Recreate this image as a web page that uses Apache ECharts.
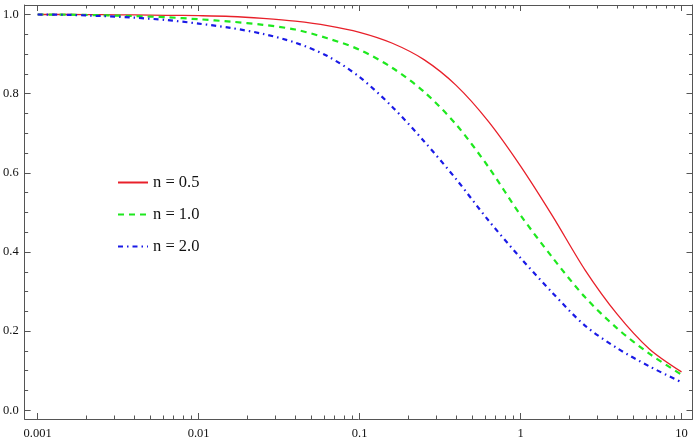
<!DOCTYPE html>
<html>
<head>
<meta charset="utf-8">
<script src="https://cdn.jsdelivr.net/npm/echarts@6/dist/echarts.min.js"></script>
<style>html,body{margin:0;padding:0;background:#fff;}#c{width:697px;height:440px;}</style>
</head>
<body>
<div id="c"></div>
<script>
const xValues = [0.001,0.001585,0.002512,0.003981,0.00631,0.01,0.01585,0.02512,0.03981,0.0631,0.1,0.1585,0.2512,0.3981,0.631,1,1.585,2.512,3.981,6.31,10];
const redN05   = [1.000,1.000,0.9995,0.999,0.998,0.997,0.995,0.990,0.983,0.972,0.955,0.928,0.886,0.821,0.730,0.617,0.490,0.355,0.243,0.155,0.097];
const greenN10 = [1.000,0.9995,0.998,0.996,0.993,0.988,0.982,0.974,0.962,0.940,0.911,0.866,0.805,0.722,0.615,0.493,0.385,0.286,0.207,0.143,0.090];
const blueN20  = [1.000,0.999,0.996,0.992,0.986,0.977,0.966,0.951,0.929,0.895,0.842,0.768,0.680,0.584,0.480,0.385,0.296,0.214,0.157,0.111,0.071];
const seriesNames = ['n = 0.5','n = 1.0','n = 2.0'];
const xTickLabels = [0.001,0.01,0.1,1,10];
const xTickTexts = ['0.001','0.01','0.1','1','10'];
const yTickLabels = [0,0.2,0.4,0.6,0.8,1.0];

const xMinor = [];
xTickLabels.forEach(d => { for (let k = 2; k <= 9; k++) { const v = +(d*k).toPrecision(3); if (v < 11.7) xMinor.push(v); } });
const yMinor = [];
for (let i = 0; i <= 20; i++) yMinor.push(+(i*0.05).toFixed(2));

const XMIN = 0.00083, XMAX = 11.7, YMIN = -0.022, YMAX = 1.024;
const axisColor = '#555';
const font = "'Liberation Serif', 'DejaVu Serif', serif";

function xAx(pos, major, show) {
  return {
    type: 'log', logBase: 10, min: XMIN, max: XMAX, position: pos,
    axisLine: { show: show, onZero: false, lineStyle: { color: axisColor, width: 1 } },
    axisTick: { show: true, inside: true, length: major ? 6 : 3.5, customValues: major ? xTickLabels : xMinor, lineStyle: { color: axisColor } },
    axisLabel: { show: pos === 'bottom' && major, customValues: xTickLabels, color: '#111', fontFamily: font, fontSize: 12.5, margin: 8,
      formatter: v => { for (let i = 0; i < xTickLabels.length; i++) if (Math.abs(Math.log10(v) - Math.log10(xTickLabels[i])) < 1e-6) return xTickTexts[i]; return ''; } },
    splitLine: { show: false }
  };
}
function yAx(pos, major, show) {
  return {
    type: 'value', min: YMIN, max: YMAX, position: pos,
    axisLine: { show: show, onZero: false, lineStyle: { color: axisColor, width: 1 } },
    axisTick: { show: true, inside: true, length: major ? 6 : 3.5, customValues: major ? yTickLabels : yMinor, lineStyle: { color: axisColor } },
    axisLabel: { show: pos === 'left' && major, customValues: yTickLabels, color: '#111', fontFamily: font, fontSize: 12.5, margin: 6,
      formatter: v => v.toFixed(1) },
    splitLine: { show: false }
  };
}

const chart = echarts.init(document.getElementById('c'), null, { renderer: 'canvas' });
const colors = ['#e8202a', '#1ee81e', '#1a1ae6'];
const lineTypes = ['solid', [6, 5], [5, 4, 1.5, 4]];
const widths = [1.3, 2.2, 2.2];
const datas = [redN05, greenN10, blueN20];
chart.setOption({
  animation: false,
  backgroundColor: '#fff',
  grid: { left: 23.5, right: 4.5, top: 5, bottom: 18, containLabel: false },
  xAxis: [xAx('bottom', true, true), xAx('bottom', false, false), xAx('top', true, true), xAx('top', false, false)],
  yAxis: [yAx('left', true, true), yAx('left', false, false), yAx('right', true, true), yAx('right', false, false)],
  legend: {
    show: true, orient: 'vertical', left: 112, top: 169, itemWidth: 30, itemHeight: 14, itemGap: 15,
    textStyle: { fontFamily: font, fontSize: 16.5, color: '#111' },
    itemStyle: { opacity: 0, color: 'rgba(0,0,0,0)', borderWidth: 0 },
    data: seriesNames
  },
  series: datas.map((d, i) => ({
    name: seriesNames[i], type: 'line', xAxisIndex: 0, yAxisIndex: 0,
    data: xValues.map((x, j) => [x, d[j]]),
    smooth: 0.3, symbol: 'none', showSymbol: false,
    lineStyle: { color: colors[i], width: widths[i], type: lineTypes[i] },
    itemStyle: { color: colors[i] }
  }))
});
</script>
</body>
</html>
